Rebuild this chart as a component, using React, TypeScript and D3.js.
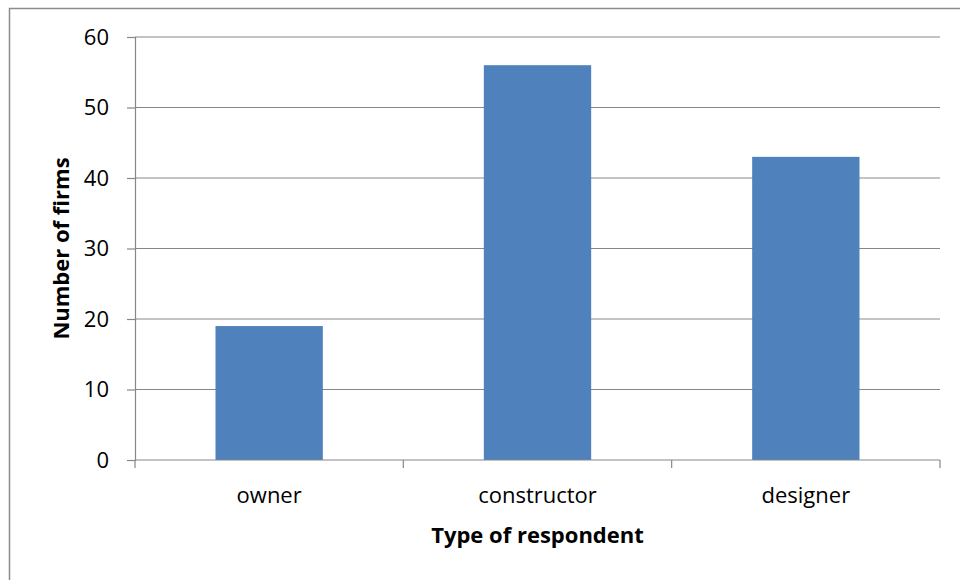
import { useEffect, useRef } from 'react'
import * as d3 from 'd3'

const categories = ['owner', 'constructor', 'designer']
const firmCounts = [19, 56, 43]
const yTicks = [0, 10, 20, 30, 40, 50, 60]
const xTitle = 'Type of respondent'
const yTitle = 'Number of firms'

const WIDTH = 960
const HEIGHT = 580

export default function App() {
  const svgRef = useRef<SVGSVGElement>(null)

  useEffect(() => {
    if (!svgRef.current) return
    const svg = d3.select(svgRef.current)
    svg.selectAll('*').remove()

    const margin = { top: 37, right: 20, bottom: 120, left: 135 }
    const font = '"Open Sans", sans-serif'
    const gridColor = '#878787'
    const fontSize = '22px'

    // outer chart frame (runs off the right and bottom edges)
    svg.append('rect')
      .attr('x', 9.5)
      .attr('y', 8.5)
      .attr('width', WIDTH)
      .attr('height', HEIGHT)
      .attr('fill', 'white')
      .attr('stroke', '#8c8c8c')
      .attr('stroke-width', 1.5)

    const x = d3.scaleBand<string>()
      .domain(categories)
      .range([margin.left, WIDTH - margin.right])
      .paddingInner(0.6)
      .paddingOuter(0.3)

    const y = d3.scaleLinear()
      .domain([0, 60])
      .range([HEIGHT - margin.bottom, margin.top])

    // horizontal grid lines
    svg.append('g')
      .selectAll('line')
      .data(yTicks.filter(d => d > 0))
      .join('line')
      .attr('x1', margin.left)
      .attr('x2', WIDTH - margin.right)
      .attr('y1', d => y(d))
      .attr('y2', d => y(d))
      .attr('stroke', gridColor)
      .attr('stroke-width', 1.2)

    // bars
    svg.append('g')
      .selectAll('rect')
      .data(categories)
      .join('rect')
      .attr('x', d => x(d)!)
      .attr('width', x.bandwidth())
      .attr('y', (_, i) => y(firmCounts[i]))
      .attr('height', (_, i) => y(0) - y(firmCounts[i]))
      .attr('fill', '#4f81bd')

    // y axis
    const yAxis = d3.axisLeft(y)
      .tickValues(yTicks)
      .tickSize(8)
      .tickPadding(18)
      .tickFormat(d => `${d}`)

    const yg = svg.append('g')
      .attr('transform', `translate(${margin.left}, 0)`)
      .call(yAxis)
    yg.select('.domain').attr('stroke', gridColor).attr('stroke-width', 1.2)
    yg.selectAll('.tick line').attr('stroke', gridColor).attr('stroke-width', 1.2)
    yg.selectAll('.tick text')
      .style('font-family', font)
      .style('font-size', fontSize)
      .attr('fill', '#000')

    // x axis: ticks at category boundaries
    const x0 = margin.left
    const step = (WIDTH - margin.right - margin.left) / categories.length
    const boundaries = d3.range(categories.length + 1).map(i => x0 + i * step)

    svg.append('line')
      .attr('x1', margin.left)
      .attr('x2', WIDTH - margin.right)
      .attr('y1', y(0))
      .attr('y2', y(0))
      .attr('stroke', gridColor)
      .attr('stroke-width', 1.2)

    svg.append('g')
      .selectAll('line')
      .data(boundaries)
      .join('line')
      .attr('x1', d => d)
      .attr('x2', d => d)
      .attr('y1', y(0))
      .attr('y2', y(0) + 8)
      .attr('stroke', gridColor)
      .attr('stroke-width', 1.2)

    svg.append('g')
      .selectAll('text')
      .data(categories)
      .join('text')
      .attr('x', d => x(d)! + x.bandwidth() / 2)
      .attr('y', y(0) + 43)
      .attr('text-anchor', 'middle')
      .style('font-family', font)
      .style('font-size', fontSize)
      .text(d => d)

    // axis titles
    svg.append('text')
      .attr('x', (margin.left + WIDTH - margin.right) / 2)
      .attr('y', y(0) + 83)
      .attr('text-anchor', 'middle')
      .style('font-family', font)
      .style('font-size', fontSize)
      .style('font-weight', 'bold')
      .text(xTitle)

    svg.append('text')
      .attr('transform', `translate(69, ${(y(0) + y(60)) / 2}) rotate(-90)`)
      .attr('text-anchor', 'middle')
      .style('font-family', font)
      .style('font-size', fontSize)
      .style('font-weight', 'bold')
      .text(yTitle)
  }, [])

  return (
    <div style={{ position: 'absolute', left: 0, top: 0, width: WIDTH, height: HEIGHT, overflow: 'hidden', background: 'white' }}>
      <svg ref={svgRef} width={WIDTH} height={HEIGHT} style={{ display: 'block' }} />
    </div>
  )
}
